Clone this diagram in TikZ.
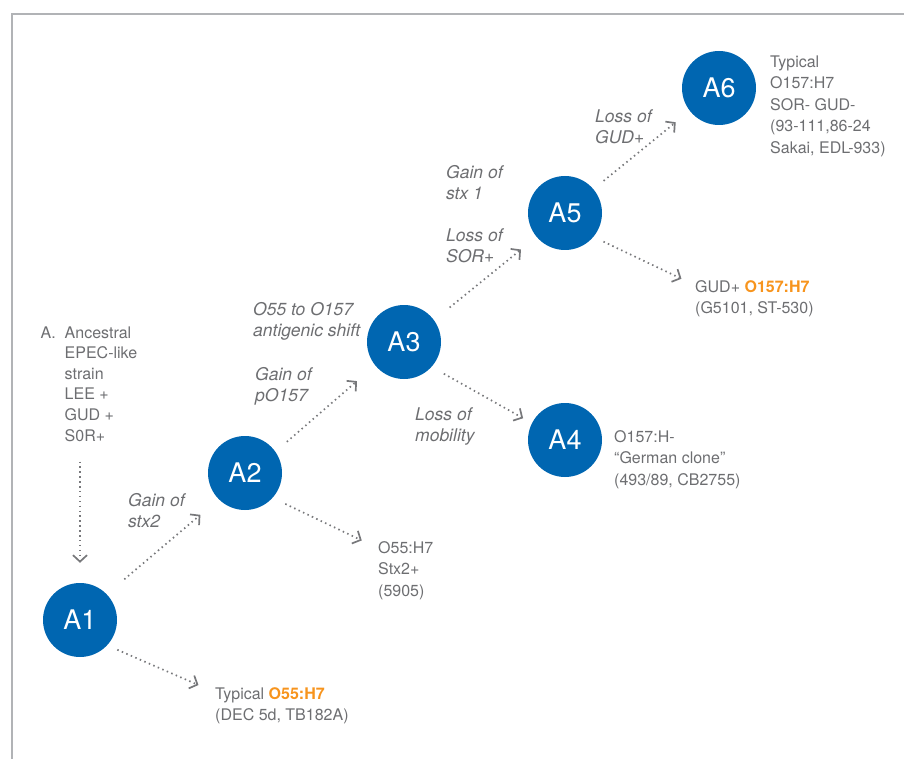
\documentclass[tikz,border=0pt]{standalone}
\usepackage{fontspec}
\setmainfont{TeX Gyre Heros}
\usetikzlibrary{positioning, arrows.meta}

\definecolor{stageblue}{HTML}{0066B1}
\definecolor{notegray}{HTML}{6D6E71}
\definecolor{dotgray}{HTML}{77787B}
\definecolor{hlorange}{HTML}{F7941D}
\definecolor{framegray}{HTML}{B1B3B6}

\tikzset{
  stage/.style={circle, fill=stageblue, minimum size=74pt, inner sep=0pt, text=white, font=\fontsize{27}{27}\selectfont},
  note/.style={anchor=north west, inner sep=0pt, align=left, text=notegray, font=\fontsize{16}{21.5}\selectfont},
  event/.style={note, font=\fontsize{17.5}{21}\selectfont\itshape},
  flow/.style={draw=dotgray, line width=1.7pt, dash pattern=on 1.5pt off 3.4pt,
    -{Straight Barb[length=6.5pt, width=14pt, line width=1.7pt]}, shorten <=14pt, shorten >=20pt},
}

\begin{document}
\begin{tikzpicture}[x=1pt, y=-1pt]
  \useasboundingbox (0,0) rectangle (904,759);
  % Rahmen
  \draw[framegray, line width=1.5pt] (904,14) -- (12,14) -- (12,759);

  % Stufen
  \node[stage] (a1) at (80,620) {A1};
  \node[stage] (a2) at (245,473) {A2};
  \node[stage] (a3) at (404,342) {A3};
  \node[stage] (a4) at (565,440) {A4};
  \node[stage] (a5) at (565,213) {A5};
  \node[stage] (a6) at (719,88) {A6};

  % Staemme
  \node[note, font=\fontsize{16}{20.6}\selectfont] (anc) at (64.5,326.2)
    {\llap{A.\hspace{9pt}}Ancestral\\EPEC-like\\strain\\LEE +\\GUD +\\S0R+};
  \node[note] (t1) at (215,687.2) {Typical {\bfseries\color{hlorange}O55:H7}\\(DEC 5d, TB182A)};
  \node[note] (t2) at (378,541.2) {O55:H7\\Stx2+\\(5905)};
  \node[note] (t3) at (614,430.2) {O157:H-\\“German clone”\\(493/89, CB2755)};
  \node[note] (t4) at (695,280.2) {GUD+ {\bfseries\color{hlorange}O157:H7}\\(G5101, ST-530)};
  \node[note] (t5) at (770,55.2) {Typical\\O157:H7\\SOR- GUD-\\(93-111,86-24\\Sakai, EDL-933)};

  % Ereignisse
  \node[event] (g1) at (128,493.2) {Gain of\\stx2};
  \node[event] (g2) at (255,367.2) {Gain of\\pO157};
  \node[event] (g3) at (253,302.2) {O55 to O157\\antigenic shift};
  \node[event] (g4) at (415,407.7) {Loss of\\mobility};
  \node[event] (g5) at (446,165.7) {Gain of\\stx 1};
  \node[event] (g6) at (446,228.2) {Loss of\\SOR+};
  \node[event] (g7) at (595,109.2) {Loss of\\GUD+};

  % Verbindungen
  \draw[flow, shorten <=20pt] (a1 |- anc.south) -- (a1.north);
  \draw[flow, shorten <=23pt, shorten >=24pt] (a1.44) -- (a2.225);
  \draw[flow, shorten <=11pt, shorten >=18pt] (a1.-43) -- ([yshift=-5pt]t1.north west);
  \draw[flow, shorten <=14pt, shorten >=18pt] (a2.-42) -- ([yshift=-7pt]t2.north west);
  \draw[flow, shorten <=15pt, shorten >=24pt] (a2.35) -- (a3.219);
  \draw[flow, shorten <=14pt, shorten >=10pt] (a3.-42) -- (a4.153);
  \draw[flow, shorten <=20pt, shorten >=20pt] (a3.36) -- (a5.220);
  \draw[flow, shorten <=11pt, shorten >=15pt] (a5.-40) -- ([yshift=-5pt]t4.north west);
  \draw[flow, shorten <=13pt, shorten >=18pt] (a5.40) -- (a6.218);
\end{tikzpicture}
\end{document}
